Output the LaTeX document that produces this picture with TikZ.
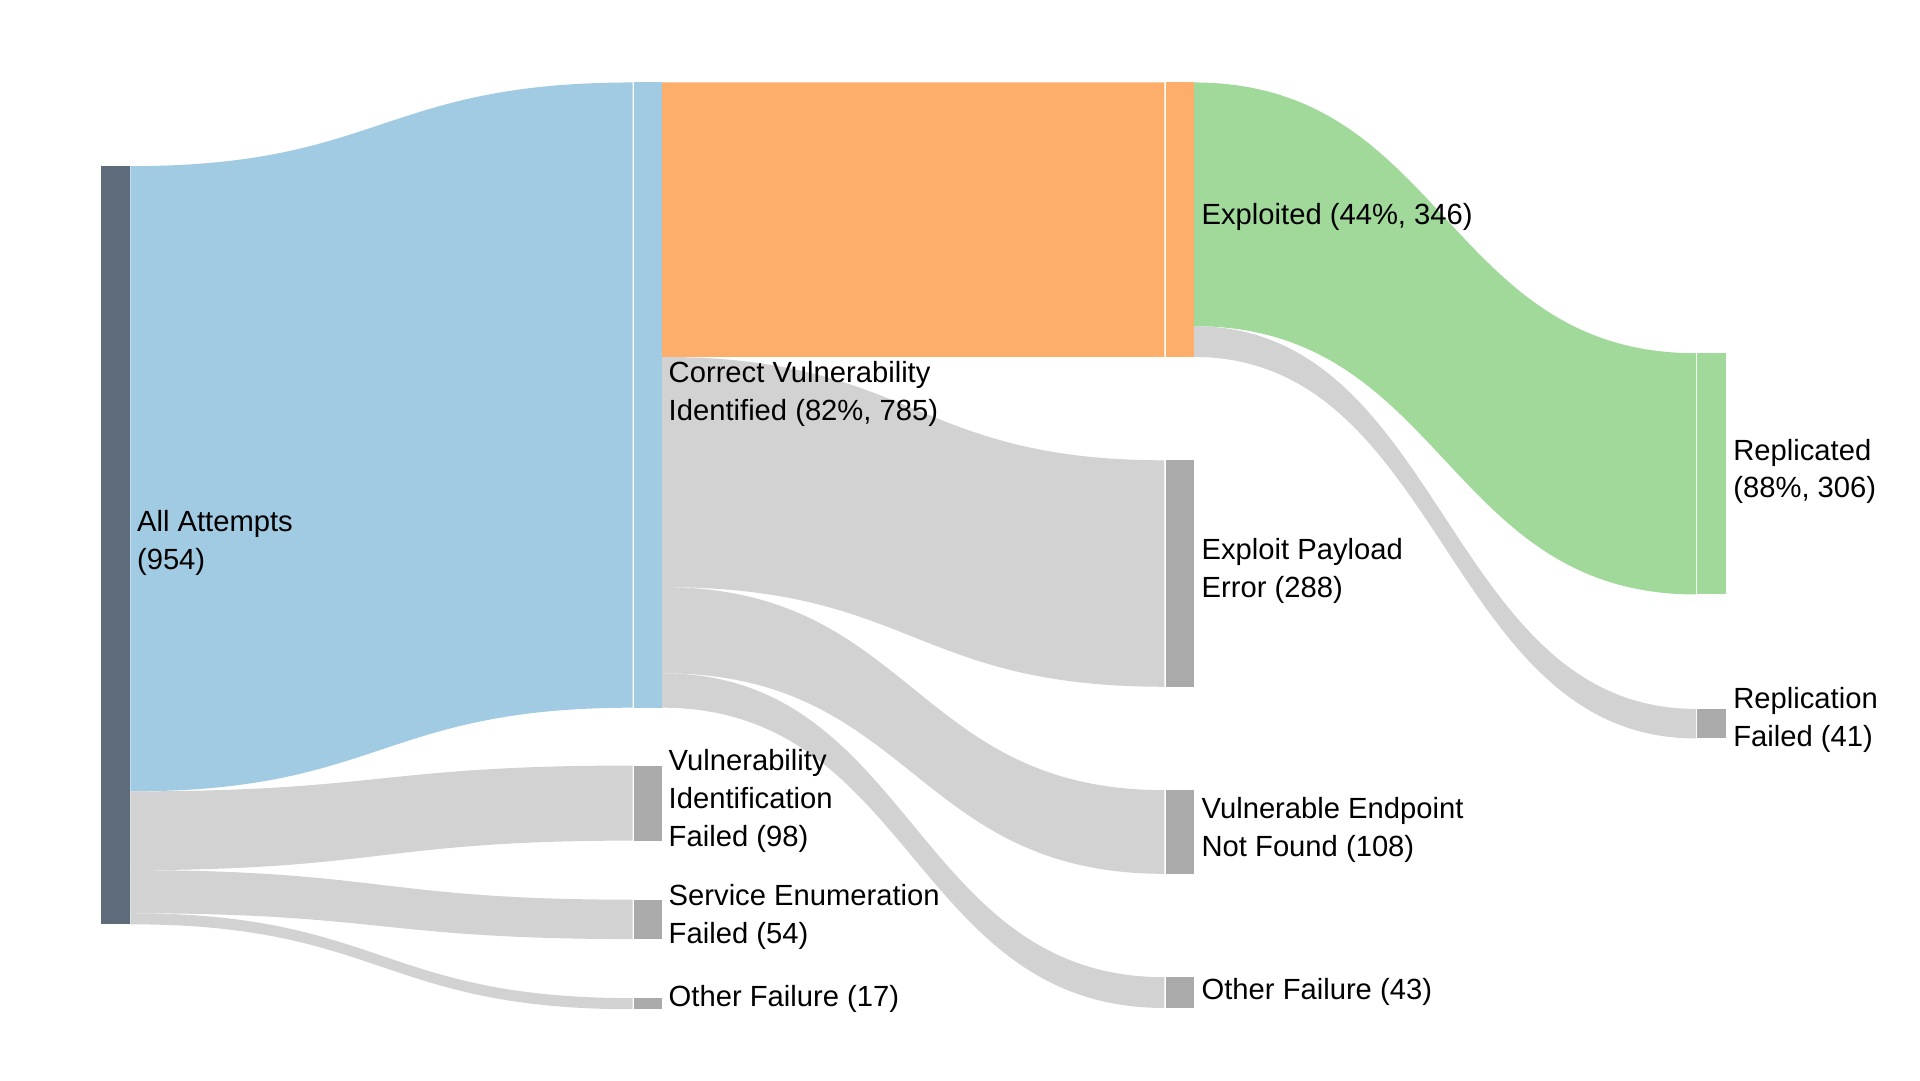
\documentclass[tikz,border=0pt]{standalone}
\usepackage{fontspec}
\setmainfont{Liberation Sans}
\definecolor{slate}{HTML}{5D6B7A}
\definecolor{lblue}{HTML}{A0CBE2}
\definecolor{fgray}{HTML}{D2D2D2}
\definecolor{bgray}{HTML}{AAAAAA}
\definecolor{orng}{HTML}{FDAE6B}
\definecolor{grn}{HTML}{A1D99B}
\newcommand{\sflow}[7]{%
  \fill[#7] (#1,#2) .. controls ({(#1+#4)/2},#2) and ({(#1+#4)/2},#5) .. (#4,#5)
    -- (#4,#6) .. controls ({(#1+#4)/2},#6) and ({(#1+#4)/2},#3) .. (#1,#3) -- cycle;}
\tikzset{lbl/.style={anchor=west,align=left,inner sep=0pt,font=\fontsize{13.5}{17.5}\selectfont}}
\begin{document}
\begin{tikzpicture}[x=0.02cm,y=-0.02cm]
\useasboundingbox[fill=white] (0,0) rectangle (1560,878);
% flows
\sflow{106}{135}{643}{514}{67}{575}{lblue}
\sflow{106}{643}{707}{514}{622}{683}{fgray}
\sflow{106}{707}{742}{514}{731}{763}{fgray}
\sflow{106}{742}{751}{514}{811}{820}{fgray}
\sflow{538}{67}{290}{946}{67}{290}{orng}
\sflow{538}{290}{477}{946}{374}{558}{fgray}
\sflow{538}{477}{547}{946}{642}{710}{fgray}
\sflow{538}{547}{575}{946}{794}{819}{fgray}
\sflow{970}{67}{265}{1378}{287}{483}{grn}
\sflow{970}{265}{290}{1378}{576}{600}{fgray}
% bars
\fill[slate] (82,135) rectangle (106,751);
\fill[lblue] (515,67) rectangle (538,575);
\fill[bgray] (515,622) rectangle (538,683);
\fill[bgray] (515,731) rectangle (538,763);
\fill[bgray] (515,811) rectangle (538,820);
\fill[orng] (947,67) rectangle (970,290);
\fill[bgray] (947,374) rectangle (970,558);
\fill[bgray] (947,642) rectangle (970,710);
\fill[bgray] (947,794) rectangle (970,819);
\fill[grn] (1379,287) rectangle (1402,483);
\fill[bgray] (1379,576) rectangle (1402,600);
% labels
\node[lbl] (all) at (111,441) {All Attempts\\(954)};
\node[lbl] (cvi) at (543,320) {Correct Vulnerability\\Identified (82\%, 785)};
\node[lbl] (vif) at (543,651) {Vulnerability\\Identification\\Failed (98)};
\node[lbl] (sef) at (543,745) {Service Enumeration\\Failed (54)};
\node[lbl] (of1) at (543,812) {Other Failure (17)};
\node[lbl] (exp) at (976,176) {Exploited (44\%, 346)};
\node[lbl] (epe) at (976,464) {Exploit Payload\\Error (288)};
\node[lbl] (ven) at (976,674) {Vulnerable Endpoint\\Not Found (108)};
\node[lbl] (of2) at (976,806) {Other Failure (43)};
\node[lbl] (rep) at (1408,383) {Replicated\\(88\%, 306)};
\node[lbl] (rpf) at (1408,585) {Replication\\Failed (41)};
\end{tikzpicture}
\end{document}
